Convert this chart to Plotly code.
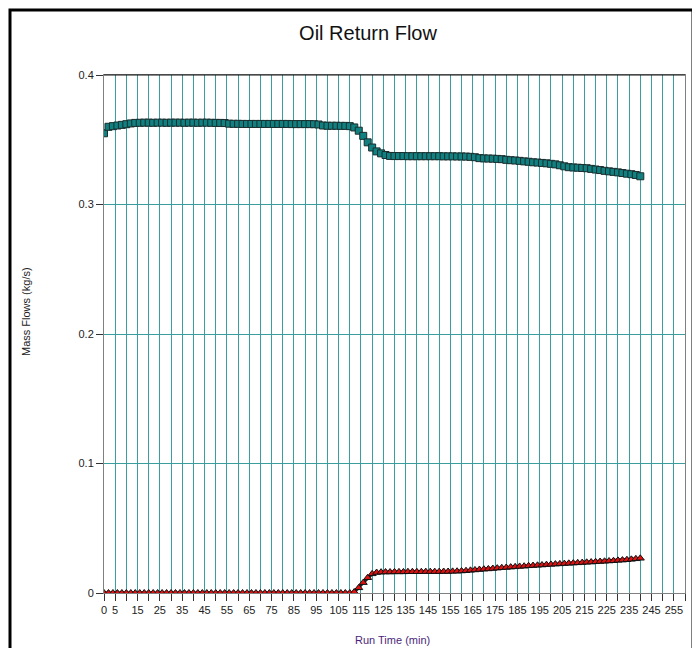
import plotly.graph_objects as go

time_min = [0, 2, 4, 6, 8, 10, 12, 14, 16, 18, 20, 22, 24, 26, 28, 30, 32, 34, 36, 38,
            40, 42, 44, 46, 48, 50, 52, 54, 56, 58, 60, 62, 64, 66, 68, 70, 72, 74, 76, 78,
            80, 82, 84, 86, 88, 90, 92, 94, 96, 98, 100, 102, 104, 106, 108, 110, 112, 114, 116, 118,
            120, 122, 124, 126, 128, 130, 132, 134, 136, 138, 140, 142, 144, 146, 148, 150, 152, 154, 156, 158,
            160, 162, 164, 166, 168, 170, 172, 174, 176, 178, 180, 182, 184, 186, 188, 190, 192, 194, 196, 198,
            200, 202, 204, 206, 208, 210, 212, 214, 216, 218, 220, 222, 224, 226, 228, 230, 232, 234, 236, 238,
            240]

upper_flow = [0.355, 0.3600, 0.3605, 0.3610, 0.3615, 0.3620, 0.3626, 0.3630,
              0.3631, 0.3632, 0.3632, 0.3631, 0.3632, 0.3632, 0.3631, 0.3632, 0.3632, 0.3632,
              0.3631, 0.3632, 0.3632, 0.3631, 0.3632, 0.3632, 0.3631, 0.3630, 0.3630, 0.3629,
              0.3624, 0.3623, 0.3623, 0.3622, 0.3622, 0.3622, 0.3622, 0.3622, 0.3622, 0.3622,
              0.3622, 0.3622, 0.3622, 0.3622, 0.3621, 0.3621, 0.3621, 0.3621, 0.3621, 0.3620, 0.3618,
              0.3610, 0.3608, 0.3608, 0.3608, 0.3607, 0.3607, 0.3605,
              0.3595, 0.3570, 0.3530, 0.3480, 0.3440, 0.3410, 0.3395, 0.3382,
              0.3375, 0.3374, 0.3374, 0.3374, 0.3373, 0.3373, 0.3373, 0.3373, 0.3373, 0.3373,
              0.3373, 0.3373, 0.3372, 0.3372, 0.3372, 0.3371, 0.3371, 0.3370, 0.3368, 0.3365,
              0.3358, 0.3356, 0.3355, 0.3354, 0.3352, 0.3350, 0.3345, 0.3342, 0.3340, 0.3337,
              0.3333, 0.3330, 0.3326, 0.3324, 0.3321, 0.3318, 0.3314, 0.3310, 0.3303, 0.3295,
              0.3288, 0.3286, 0.3284, 0.3282, 0.3280, 0.3275, 0.3270, 0.3266, 0.3260, 0.3256,
              0.3252, 0.3248, 0.3243, 0.3238, 0.3234, 0.3228, 0.3218]

lower_flow = [
    0.0, 0.0, 0.0, 0.0, 0.0, 0.0, 0.0, 0.0, 0.0, 0.0, 0.0, 0.0, 0.0, 0.0,
    0.0, 0.0, 0.0, 0.0, 0.0, 0.0, 0.0, 0.0, 0.0, 0.0, 0.0, 0.0, 0.0, 0.0,
    0.0, 0.0, 0.0, 0.0, 0.0, 0.0, 0.0, 0.0, 0.0, 0.0, 0.0, 0.0, 0.0, 0.0,
    0.0, 0.0, 0.0, 0.0, 0.0, 0.0, 0.0, 0.0, 0.0, 0.0, 0.0, 0.0, 0.0, 0.0,
    0.0008, 0.0040, 0.0080, 0.0118, 0.0148, 0.0158, 0.0161,
    0.0162, 0.0162, 0.0163, 0.0163, 0.0163, 0.0164, 0.0164, 0.0164, 0.0164,
    0.0165, 0.0165, 0.0165, 0.0165, 0.0166, 0.0166, 0.0167, 0.0168, 0.0170,
    0.0172, 0.0175, 0.0178, 0.0181, 0.0184, 0.0186, 0.0189, 0.0192, 0.0195, 0.0197,
    0.0200, 0.0202, 0.0205, 0.0207, 0.0210, 0.0212, 0.0214, 0.0216, 0.0219, 0.0221,
    0.0223, 0.0225, 0.0227, 0.0229, 0.0231, 0.0233, 0.0235, 0.0237, 0.0239, 0.0241,
    0.0243, 0.0245, 0.0247, 0.0249, 0.0252, 0.0254, 0.0257, 0.0260, 0.0264, 0.0268]

x_tick_vals = [0, 5, 10, 15, 20, 25, 30, 35, 40, 45, 50, 55, 60, 65, 70, 75, 80, 85, 90, 95,
               100, 105, 110, 115, 120, 125, 130, 135, 140, 145, 150, 155, 160, 165, 170, 175,
               180, 185, 190, 195, 200, 205, 210, 215, 220, 225, 230, 235, 240, 245, 250, 255, 260]
x_tick_text = ["0", "5", "", "15", "", "25", "", "35", "", "45", "", "55", "", "65", "", "75", "", "85",
               "", "95", "", "105", "", "115", "", "125", "", "135", "", "145", "", "155", "", "165",
               "", "175", "", "185", "", "195", "", "205", "", "215", "", "225", "", "235", "", "245",
               "", "255", ""]
y_tick_vals = [0, 0.1, 0.2, 0.3, 0.4]
y_tick_text = ["0", "0.1", "0.2", "0.3", "0.4"]

assert len(time_min) == len(upper_flow) == len(lower_flow)

# the page body has an 8px margin, so the figure is sized/positioned to compensate
OFF = 8
W, H = 700 - OFF, 648 - OFF
PL, PR, PT, PB = 104 - OFF, 685 - OFF, 75 - OFF, 593 - OFF
PW, PH = PR - PL, PB - PT

fig = go.Figure()
fig.add_trace(go.Scatter(
    x=time_min, y=upper_flow, mode="lines+markers",
    line=dict(color="#1c3c3c", width=3),
    marker=dict(symbol="square", size=7, color="#108080",
                line=dict(color="#1a2e2e", width=1)),
    showlegend=False))
fig.add_trace(go.Scatter(
    x=time_min, y=lower_flow, mode="lines+markers",
    line=dict(color="#222222", width=3),
    marker=dict(symbol="triangle-up", size=7, color="#e01010",
                line=dict(color="#111111", width=1)),
    showlegend=False))

fig.update_layout(
    width=W, height=H,
    margin=dict(l=PL, r=W - PR, t=PT, b=H - PB),
    paper_bgcolor="white", plot_bgcolor="white",
    font=dict(family="Liberation Sans, Arial, sans-serif", size=11, color="#222"),
    title=dict(text="Oil Return Flow", x=(368 - OFF) / W, xanchor="center", xref="container",
               y=1 - (33 - OFF) / H, yanchor="middle", yref="container",
               font=dict(size=20, color="#111")),
    showlegend=False,
)

fig.update_xaxes(
    range=[0, 260], tickmode="array", tickvals=x_tick_vals, ticktext=x_tick_text,
    ticks="outside", ticklen=7, tickcolor="#333", tickwidth=1,
    showgrid=True, gridcolor="#3a9e9e", gridwidth=1,
    showline=True, linecolor="#808080", linewidth=1, mirror=True,
    zeroline=False, tickfont=dict(size=11, color="#222"), fixedrange=True,
)
fig.update_yaxes(
    range=[0, 0.4], tickmode="array", tickvals=y_tick_vals, ticktext=y_tick_text,
    ticks="outside", ticklen=7, tickcolor="#333", tickwidth=1,
    showgrid=True, gridcolor="#3a9e9e", gridwidth=1,
    showline=True, linecolor="#808080", linewidth=1, mirror=True,
    zeroline=False, tickfont=dict(size=11, color="#222"), fixedrange=True,
)

fig.add_shape(type="line", xref="paper", yref="paper", x0=0, x1=1, y0=1, y1=1,
              line=dict(color="#111", width=1))
fig.add_shape(type="rect", xref="paper", yref="paper",
              x0=(10 - 104) / PW, x1=(693 - 104) / PW,
              y0=-0.3, y1=(593 - 10) / PH,
              line=dict(color="black", width=3), layer="above")

fig.add_annotation(text="Mass Flows (kg/s)", xref="paper", yref="paper",
                   x=(26 - 104) / PW, y=(593 - 312) / PH, textangle=-90,
                   showarrow=False, xanchor="center", yanchor="middle",
                   font=dict(size=11, color="#222"))
fig.add_annotation(text="Run Time (min)", xref="paper", yref="paper",
                   x=(392 - 104) / PW, y=(593 - 640) / PH,
                   showarrow=False, xanchor="center", yanchor="middle",
                   font=dict(size=11, color="#4b1f7a"))

fig.write_html("out.html")
